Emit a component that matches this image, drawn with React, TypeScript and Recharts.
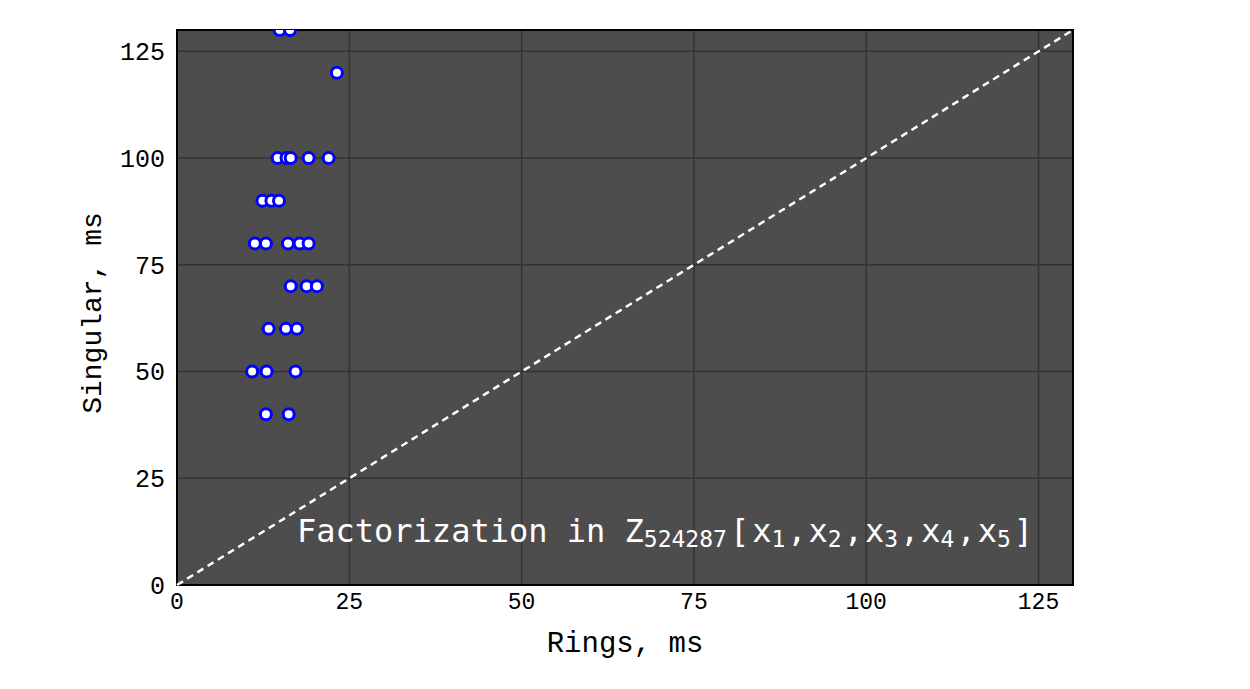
import React from 'react';
import {
  ScatterChart,
  Scatter,
  XAxis,
  YAxis,
  CartesianGrid,
  ReferenceLine,
  ReferenceArea,
  Customized,
} from 'recharts';

const ringsMs = [
  14.9, 16.4, 23.2, 14.6, 15.9, 16.5, 19.1, 22.0, 12.4, 13.7, 14.8, 11.3, 12.9, 16.1,
  17.8, 19.1, 16.5, 18.8, 20.3, 13.3, 15.8, 17.4, 10.9, 13.0, 17.2, 12.9, 16.2,
];
const singularMs = [
  130, 130, 120, 100, 100, 100, 100, 100, 90, 90, 90, 80, 80, 80, 80, 80, 70, 70, 70, 60,
  60, 60, 50, 50, 50, 40, 40,
];
const tickValues = [0, 25, 50, 75, 100, 125];
const axisMax = 130;
const diagonal = [
  { x: 0, y: 0 },
  { x: 130, y: 130 },
];

const points = ringsMs.map((r, i) => ({ x: r, y: singularMs[i] }));

const yTickFont = { fontFamily: 'Liberation Mono', fontSize: 25, fill: '#000' };
const xTickFont = { fontFamily: 'Liberation Mono', fontSize: 23, fill: '#000' };
const labelFont = 'Liberation Mono';

const Dot = (props: any) => {
  const { cx, cy } = props;
  if (cx == null || cy == null) return null;
  return <circle cx={cx} cy={cy} r={5.5} fill="#ffffff" stroke="#0000ff" strokeWidth={3} />;
};

const sub = { fontSize: 23 };

const Title = () => (
  <text x={297} y={542} fontFamily="DejaVu Sans Mono" fontSize={32} fill="#ffffff">
    Factorization in Z
    <tspan {...sub} dy={5}>524287</tspan>
    <tspan dy={-5} dx={3}>[</tspan>
    <tspan dx={3}>x</tspan>
    <tspan {...sub} dy={5}>1</tspan>
    <tspan dy={-5} dx={2}>,</tspan>
    <tspan dx={2}>x</tspan>
    <tspan {...sub} dy={5}>2</tspan>
    <tspan dy={-5} dx={2}>,</tspan>
    <tspan dx={2}>x</tspan>
    <tspan {...sub} dy={5}>3</tspan>
    <tspan dy={-5} dx={2}>,</tspan>
    <tspan dx={2}>x</tspan>
    <tspan {...sub} dy={5}>4</tspan>
    <tspan dy={-5} dx={2}>,</tspan>
    <tspan dx={2}>x</tspan>
    <tspan {...sub} dy={5}>5</tspan>
    <tspan dy={-5} dx={3}>]</tspan>
  </text>
);

const XLabel = () => (
  <text x={625} y={652} textAnchor="middle" fontFamily={labelFont} fontSize={29} fill="#000">
    Rings, ms
  </text>
);

const YLabel = () => (
  <text
    x={0}
    y={0}
    transform="translate(101,313) rotate(-90)"
    textAnchor="middle"
    fontFamily={labelFont}
    fontSize={28}
    fill="#000"
  >
    Singular, ms
  </text>
);

export default function App() {
  return (
    <div style={{ position: 'absolute', left: 0, top: 0, width: 1250, height: 689, background: '#fff' }}>
      <ScatterChart
        width={1250}
        height={689}
        margin={{ top: 30, right: 177, bottom: 0, left: 0 }}
      >
        <CartesianGrid
          stroke="#333333"
          strokeWidth={1.5}
          fill="#4d4d4d"
          fillOpacity={1}
          horizontalValues={tickValues}
          verticalValues={tickValues}
        />
        <XAxis
          type="number"
          dataKey="x"
          domain={[0, axisMax]}
          ticks={tickValues}
          height={104}
          tickSize={0}
          tickMargin={8}
          axisLine={false}
          tick={xTickFont}
          allowDataOverflow
        />
        <YAxis
          type="number"
          dataKey="y"
          domain={[0, axisMax]}
          ticks={tickValues}
          width={177}
          tickSize={0}
          tickMargin={12}
          axisLine={false}
          tick={yTickFont}
          allowDataOverflow
        />
        <ReferenceLine
          segment={diagonal}
          stroke="#ffffff"
          strokeWidth={2.5}
          strokeDasharray="7 5"
        />
        <Scatter data={points} shape={Dot} isAnimationActive={false} />
        <ReferenceArea
          x1={0}
          x2={axisMax}
          y1={0}
          y2={axisMax}
          fill="none"
          stroke="#000000"
          strokeWidth={2}
          fillOpacity={0}
        />
        <Customized component={Title} />
        <Customized component={XLabel} />
        <Customized component={YLabel} />
      </ScatterChart>
    </div>
  );
}
